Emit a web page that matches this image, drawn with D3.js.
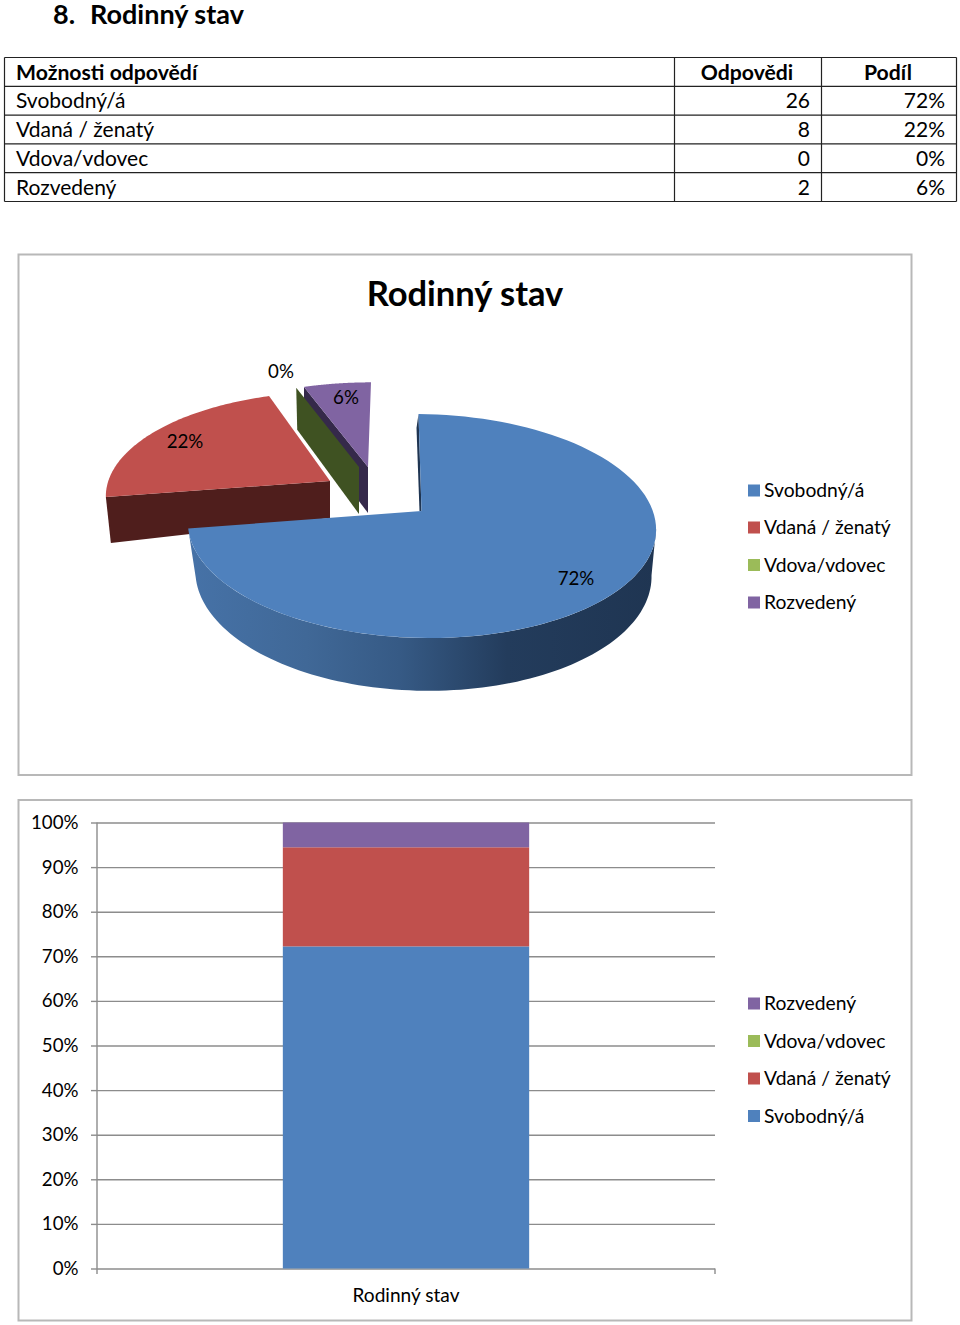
<!DOCTYPE html>
<html><head><meta charset="utf-8">
<script src="https://cdn.jsdelivr.net/npm/d3@7"></script>
<style>html,body{margin:0;padding:0;background:#fff}svg{display:block}text{font-family:Lato,"Open Sans",sans-serif;fill:#000}</style>
</head><body><div id="c"></div>
<script>
const categories = ["Svobodný/á","Vdaná / ženatý","Vdova/vdovec","Rozvedený"];
const counts = [26,8,0,2];
const shares = ["72%","22%","0%","6%"];
const colors = ["#4f81bd","#c0504d","#9bbb59","#8064a2"];
const edgeColors = ["#1f3552","#4f1e1c","#3f5222","#35294a"];
const yTicks = d3.range(0,1.01,0.1);
const tableHeader = ["Možnosti odpovědí","Odpovědi","Podíl"];
const seriesTitle = "Rodinný stav";

const svg = d3.select("#c").append("svg").attr("width",960).attr("height",1325);
const FS = 21, HS = 21.2, LS = 19.3, TS = 18.7;

// heading
svg.append("text").attr("x",53).attr("y",24).attr("font-size",27).attr("font-weight",700).text("8.");
svg.append("text").attr("x",90).attr("y",24).attr("font-size",27).attr("font-weight",700).text(seriesTitle);

// table
const rowY = d3.scaleLinear().domain([0,5]).range([57.5,201.5]);
const colX = [4.5,674.5,821.5,956.5];
const tbl = svg.append("g").attr("stroke","#222").attr("stroke-width",1.2);
d3.range(6).forEach(i=>tbl.append("line").attr("x1",colX[0]).attr("x2",colX[3]).attr("y1",rowY(i)).attr("y2",rowY(i)));
colX.forEach(x=>tbl.append("line").attr("x1",x).attr("x2",x).attr("y1",rowY(0)).attr("y2",rowY(5)));
const base = i=>rowY(i)+22;
svg.append("text").attr("x",16).attr("y",base(0)).attr("font-size",HS).attr("font-weight",700).text(tableHeader[0]);
svg.append("text").attr("x",747).attr("y",base(0)).attr("text-anchor","middle").attr("font-size",HS).attr("font-weight",700).text(tableHeader[1]);
svg.append("text").attr("x",888).attr("y",base(0)).attr("text-anchor","middle").attr("font-size",HS).attr("font-weight",700).text(tableHeader[2]);
categories.forEach((c,i)=>{
  svg.append("text").attr("x",16).attr("y",base(i+1)).attr("font-size",FS).text(c);
  svg.append("text").attr("x",810).attr("y",base(i+1)).attr("text-anchor","end").attr("font-size",FS).text(counts[i]);
  svg.append("text").attr("x",945).attr("y",base(i+1)).attr("text-anchor","end").attr("font-size",FS).text(shares[i]);
});

// chart frames
[[254.5,775],[800,1320.5]].forEach(([a,b])=>svg.append("rect").attr("x",18.5).attr("y",a).attr("width",893).attr("height",b-a)
  .attr("fill","#fff").attr("stroke","#b8b8b8").attr("stroke-width",2));

svg.append("text").attr("x",465).attr("y",306).attr("text-anchor","middle").attr("font-size",34.5).attr("font-weight",700).text(seriesTitle);

// 3D pie: each slice lies in its own perspective plane
const K = 0.134;
const frame = (x0,y0,B,A,s,t)=>({x0,y0,B,A,s,t});
const topFrames = [frame(421.5,511,232,110,3.4,2),frame(330,481,221,101,-7.4,2),frame(359,467,216,95,-3.4,0),frame(368,467,220,96,-3.4,0)];
const blueLower = frame(423,558,226,115,3.4,1);
const edgeShift = [{near:[-2,0],far:[-2,14]},{near:[0,37],far:[5,46]},{near:[0,47],far:[1,42]},{near:[0,46],far:[0,42]}];
const proj = (f,a,r=1)=>{
  const u=Math.sin(a)*r, v=-Math.cos(a)*r, g=1/(1-K*v);
  return [f.x0+(f.B*u+f.s*v)*g, f.y0+(f.A*v+f.t*u)*g];
};
const arcs = d3.pie().sort(null)(counts);
const sample = (a,b)=>d3.range(0,101).map(i=>a+(b-a)*i/100);
const line = d3.line();
const defs = svg.append("defs");
const grad = defs.append("linearGradient").attr("id","blueSide").attr("gradientUnits","userSpaceOnUse").attr("x1",190).attr("x2",656).attr("y1",0).attr("y2",0);
[[0,"#4672a7"],[.25,"#406897"],[.45,"#365a85"],[.68,"#233c5c"],[1,"#1f3552"]].forEach(([o,c])=>grad.append("stop").attr("offset",o).attr("stop-color",c));
const pie = svg.append("g");
function drawEdge(i,a){
  const f=topFrames[i], s=edgeShift[i], ap=proj(f,0,0), rim=proj(f,a);
  pie.append("path").attr("fill",edgeColors[i]).attr("d",line([ap,rim,[rim[0]+s.far[0],rim[1]+s.far[1]],[ap[0]+s.near[0],ap[1]+s.near[1]]])+"Z");
}
function drawFace(i){
  const f=topFrames[i], d=arcs[i];
  pie.append("path").attr("fill",colors[i]).attr("d",line([proj(f,0,0),...sample(d.startAngle,d.endAngle).map(a=>proj(f,a))])+"Z");
}
drawEdge(3,arcs[3].startAngle); drawFace(3);
drawEdge(2,arcs[2].startAngle);
drawEdge(1,arcs[1].startAngle); drawFace(1);
const sideAngles = sample(98*Math.PI/180,arcs[0].endAngle);
pie.append("path").attr("fill","url(#blueSide)").attr("d",line([...sideAngles.map(a=>proj(topFrames[0],a)),...sideAngles.slice().reverse().map(a=>proj(blueLower,a))])+"Z");
drawEdge(0,arcs[0].startAngle); drawFace(0);

const pieLabelAt = [[576,585],[185,448],[281,378],[346,404]];
shares.forEach((s,i)=>svg.append("text").attr("x",pieLabelAt[i][0]).attr("y",pieLabelAt[i][1]).attr("text-anchor","middle").attr("font-size",TS).text(s));

function legend(order,ys){
  order.forEach((k,j)=>{
    svg.append("rect").attr("x",748).attr("y",ys[j]-6).attr("width",12).attr("height",12).attr("fill",colors[k]);
    svg.append("text").attr("x",764).attr("y",ys[j]+6.5).attr("font-size",LS).text(categories[k]);
  });
}
legend([0,1,2,3],[490.5,527.5,565,602.5]);

// stacked 100% column
const y = d3.scaleLinear().domain([0,1]).range([1268.5,822.5]);
const x = d3.scaleBand().domain([seriesTitle]).range([97,715]).paddingInner(.43).paddingOuter(.43);
const axisCol = "#8c8c8c";
const yAxis = svg.append("g").attr("transform","translate(97,0)").call(d3.axisLeft(y).tickValues(yTicks).tickFormat(d3.format(".0%")).tickSize(6).tickPadding(12.5));
yAxis.select(".domain").attr("stroke",axisCol).attr("stroke-width",1.4).attr("d","M0,822.5V1274");
yAxis.selectAll(".tick line").attr("stroke",axisCol).attr("stroke-width",1.4).clone().attr("x1",0).attr("x2",618);
yAxis.selectAll(".tick text").attr("font-size",TS).attr("font-family",null);
svg.append("line").attr("x1",715).attr("x2",715).attr("y1",1268.5).attr("y2",1274).attr("stroke",axisCol).attr("stroke-width",1.4);
const stacked = d3.stack().keys(d3.range(4)).offset(d3.stackOffsetExpand)([counts]);
stacked.forEach((s,i)=>{
  const d=s[0];
  svg.append("rect").attr("x",x(seriesTitle)).attr("width",x.bandwidth()).attr("y",y(d[1])).attr("height",y(d[0])-y(d[1])).attr("fill",colors[i]);
});
svg.append("text").attr("x",x(seriesTitle)+x.bandwidth()/2).attr("y",1302).attr("text-anchor","middle").attr("font-size",19.1).text(seriesTitle);
legend([3,2,1,0],[1003.5,1041,1078.5,1116]);
</script></body></html>
